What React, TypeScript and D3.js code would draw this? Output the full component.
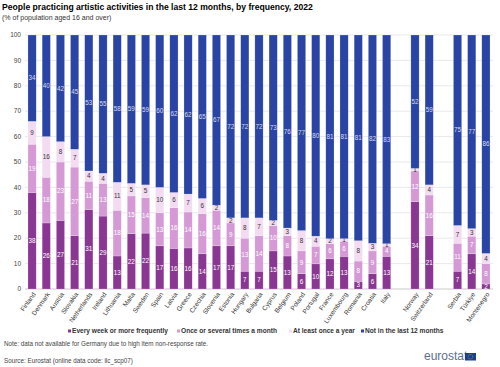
import React from "react";
import * as d3 from "d3";

const countries = ["Finland","Denmark","Austria","Slovakia","Netherlands","Ireland","Lithuania","Malta","Sweden","Spain","Latvia","Greece","Czechia","Slovenia","Estonia","Hungary","Bulgaria","Cyprus","Belgium","Poland","Portugal","France","Luxembourg","Romania","Croatia","Italy","", "Norway","Switzerland"," ","Serbia","Türkiye","Montenegro"];
const weekly =  [38,26,27,21,31,29,13,22,22,17,16,16,14,17,17,7,7,15,13,6,10,12,13,3,6,13,null,34,21,null,7,14,2];
const monthly = [19,18,23,27,11,13,18,15,14,13,16,14,16,14,9,13,14,10,8,9,7,6,6,8,9,4,null,12,16,null,11,7,8];
const yearly =  [9,16,8,7,4,4,11,5,5,10,6,7,6,2,2,8,7,2,3,8,4,2,1,8,3,1,null,1,4,null,7,3,4];
const notLast = [34,40,42,45,53,55,58,59,59,60,62,62,65,67,72,72,72,73,76,77,80,81,81,81,82,83,null,52,59,null,75,77,86];
const seriesNames = ["Every week or more frequently","Once or several times a month","At least once a year","Not in the last 12 months"];
const colors = ["#8a3793","#d59ad6","#f3dbf2","#2a44a6"];
const labelColors = ["#ffffff","#ffffff","#333333","#d8dcf0"];
const yTicks = [0,10,20,30,40,50,60,70,80,90,100];

export default function App() {
  const W = 500, H = 367;
  const x = d3.scaleBand<number>().domain(countries.map((_, i) => i)).range([25, 493]).paddingInner(0.42).paddingOuter(0.21);
  const y = d3.scaleLinear().domain([0, 100]).range([289, 35]);
  const yFrac = d3.scaleLinear().domain([0, 1]).range([289, 35]);
  const font = "Liberation Sans, Arial, sans-serif";
  const keys = ["w", "m", "y", "n"];
  const rows = countries.map((c, i) => ({ i, w: weekly[i] ?? 0, m: monthly[i] ?? 0, y: yearly[i] ?? 0, n: notLast[i] ?? 0, valid: weekly[i] != null }));
  const stacked = d3.stack<any>().keys(keys).offset(d3.stackOffsetExpand)(rows);
  const bars: JSX.Element[] = [];
  stacked.forEach((layer, k) => {
    layer.forEach((d, j) => {
      const row = rows[j];
      if (!row.valid) return;
      const v = row[keys[k] as "w"];
      const y0 = yFrac(d[0]), y1 = yFrac(d[1]);
      const bx = x(row.i)!;
      bars.push(<rect key={`r${j}-${k}`} x={bx} y={y1} width={x.bandwidth()} height={y0 - y1} fill={colors[k]} stroke="#ffffff" strokeOpacity={0.4} strokeWidth={0.5} />);
      bars.push(<text key={`t${j}-${k}`} x={bx + x.bandwidth() / 2} y={(y0 + y1) / 2} dy="0.35em" textAnchor="middle" fontSize={6.3} fill={labelColors[k]}>{v}</text>);
    });
  });
  const legendX = [68, 177, 289, 361];
  return (
    <svg width={W} height={H} style={{ position: "absolute", left: 0, top: 0, background: "#fff" }} fontFamily={font}>
      <text x={2} y={10} fontSize={8.6} fontWeight="bold" fill="#000">People practicing artistic activities in the last 12 months, by frequency, 2022</text>
      <text x={2} y={20} fontSize={7} fill="#333">(% of population aged 16 and over)</text>
      {yTicks.map(t => (
        <g key={t}>
          <line x1={25} x2={493} y1={y(t)} y2={y(t)} stroke={t === 0 ? "#bbbbbb" : "#e2e2e2"} strokeWidth={0.8} />
          <text x={21} y={y(t)} dy="0.35em" textAnchor="end" fontSize={6.5} fill="#444">{t}</text>
        </g>
      ))}
      {bars}
      {countries.map((c, i) => c.trim() === "" ? null : (
        <text key={`x${i}`} transform={`translate(${x(i)! + x.bandwidth() / 2 + 2},${293}) rotate(-55)`} textAnchor="end" dy="0.35em" fontSize={6.5} fill="#333">{c}</text>
      ))}
      {seriesNames.map((n, k) => (
        <g key={n}>
          <rect x={legendX[k]} y={329.5} width={3} height={3} fill={colors[k]} />
          <text x={legendX[k] + 4} y={331} dy="0.35em" fontSize={6.6} fontWeight="bold" fill="#333">{n}</text>
        </g>
      ))}
      <text x={4} y={344} dy="0.35em" fontSize={6.3} fill="#444">Note: data not available for Germany due to high item non-response rate.</text>
      <text x={4} y={361} dy="0.35em" fontSize={6.3} fill="#444">Source: Eurostat (online data code: ilc_scp07)</text>
      <text x={424} y={360} fontSize={12} fill="#5d6f8e">eurostat</text>
      <rect x={465} y={353} width={11} height={7.5} fill="#1b3f95" />
      <circle cx={470.5} cy={356.75} r={2.3} fill="none" stroke="#f5d400" strokeWidth={0.6} strokeDasharray="0.6 0.6" />
    </svg>
  );
}
